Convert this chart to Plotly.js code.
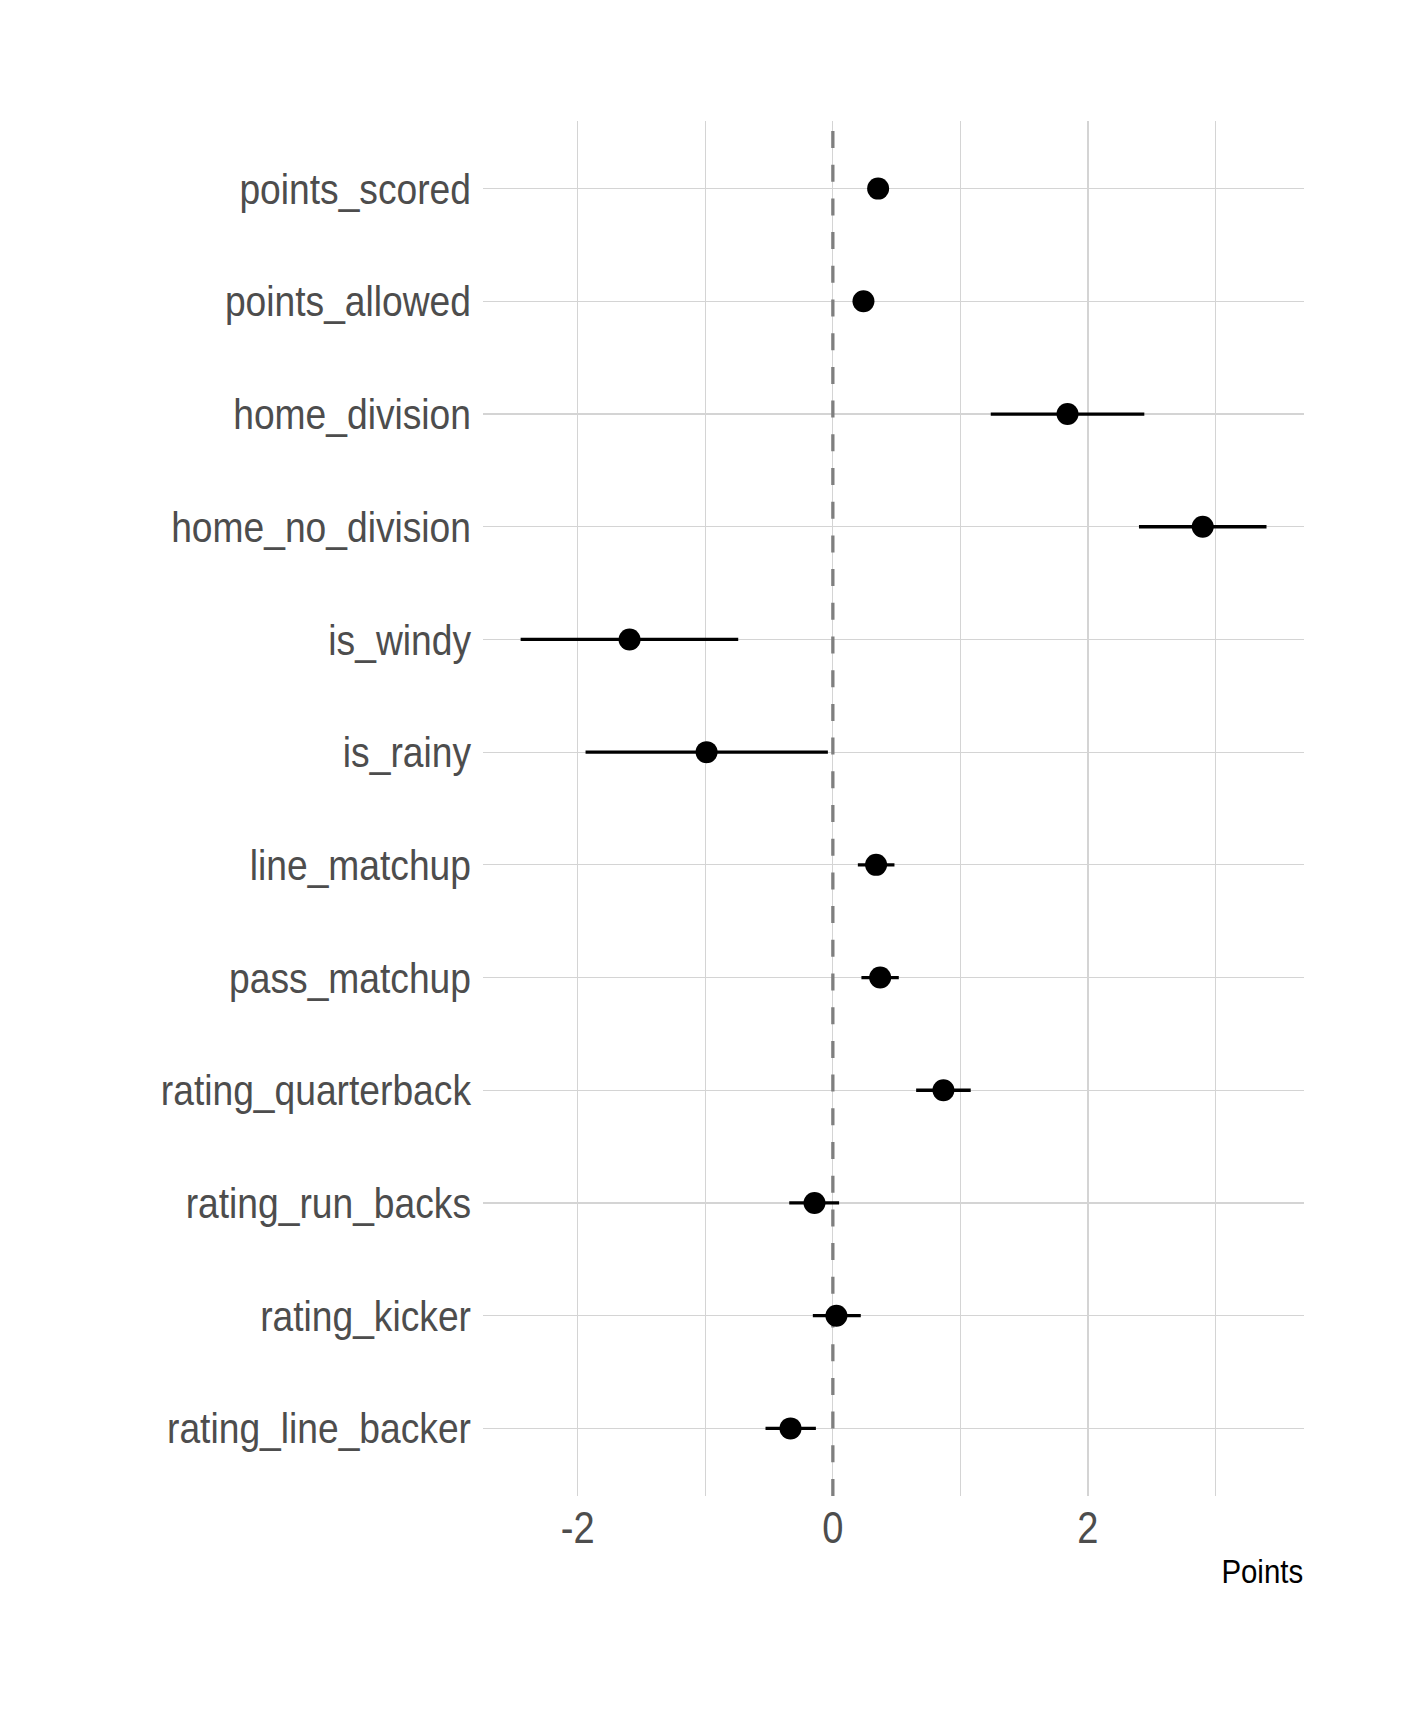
<!DOCTYPE html>
<html>
<head>
<meta charset="utf-8">
<script src="https://cdn.plot.ly/plotly-3.0.1.min.js"></script>
<style>html,body{margin:0;padding:0;background:#fff;}</style>
</head>
<body>
<div id="chart" style="width:1425px;height:1712px;"></div>
<script>
// Data
const terms = ["points_scored","points_allowed","home_division","home_no_division","is_windy","is_rainy","line_matchup","pass_matchup","rating_quarterback","rating_run_backs","rating_kicker","rating_line_backer"];
const estimate = [0.355, 0.24, 1.84, 2.90, -1.594, -0.99, 0.339, 0.371, 0.867, -0.144, 0.028, -0.332];
const lower    = [0.30, 0.19, 1.238, 2.40, -2.448, -1.939, 0.196, 0.224, 0.653, -0.342, -0.157, -0.528];
const upper    = [0.41, 0.29, 2.442, 3.40, -0.742, -0.039, 0.483, 0.517, 1.081, 0.049, 0.219, -0.133];
const refX = [0, 0];        // reference line at zero
const refSpan = [0, 1];     // spans the whole panel height
const xTickVals = [-2, -1, 0, 1, 2, 3];
const xTickText = ["-2", "", "0", "", "2", ""];
const xTitle = "Points";

const errPlus = estimate.map((e, i) => upper[i] - e);
const errMinus = estimate.map((e, i) => e - lower[i]);

const FONT = '"Liberation Sans", Arial, sans-serif';
const NARROW = 0.865;  // horizontal condensing to mimic a narrow face

const refLine = {
  type: 'scatter', mode: 'lines',
  x: refX, y: refSpan, xaxis: 'x', yaxis: 'y',
  line: {color: '#7f7f7f', width: 3.3, dash: '17px,16.7px'},
  hoverinfo: 'skip'
};

const trace = {
  type: 'scatter',
  mode: 'markers',
  x: estimate,
  y: terms,
  xaxis: 'x', yaxis: 'y2',
  marker: {color: '#000000', size: 22},
  error_x: {type: 'data', symmetric: false, array: errPlus, arrayminus: errMinus,
            color: '#000000', thickness: 3.3, width: 0},
  hoverinfo: 'x+y'
};

const layout = {
  width: 1425, height: 1712,
  paper_bgcolor: '#ffffff', plot_bgcolor: '#ffffff',
  margin: {l: 483, r: 121, t: 121, b: 216},
  showlegend: false,
  font: {family: FONT, color: '#4d4d4d'},
  xaxis: {
    range: [-2.743, 3.694],
    tickvals: xTickVals, ticktext: xTickText,
    showgrid: true, gridcolor: '#d4d4d4', gridwidth: 1.2,
    zeroline: false, showline: false, ticks: '',
    tickfont: {family: FONT, size: 44, color: '#4d4d4d'},
    ticklabelstandoff: 2
  },
  yaxis: {
    range: [0, 1], visible: false, showgrid: false, zeroline: false, fixedrange: true
  },
  yaxis2: {
    type: 'category', overlaying: 'y', side: 'left',
    categoryorder: 'array', categoryarray: terms,
    range: [terms.length - 1 + 0.6, -0.6],
    showgrid: true, gridcolor: '#d4d4d4', gridwidth: 1.2,
    zeroline: false, showline: false, ticks: '',
    tickfont: {family: FONT, size: 43, color: '#4d4d4d'},
    ticklabelstandoff: 11
  },
  annotations: [{
    text: xTitle, xref: 'paper', yref: 'paper', x: 1, y: 0,
    xanchor: 'right', yanchor: 'top', showarrow: false, yshift: -54, xshift: 8,
    font: {family: FONT, size: 34, color: '#000000'}
  }]
};

Plotly.newPlot('chart', [refLine, trace], layout, {displayModeBar: false, staticPlot: true}).then(function (gd) {
  const sel = gd.querySelectorAll('.ytick text, .y2tick text, .xtick text, .annotation-text');
  sel.forEach(function (t) {
    if (!t.textContent) return;
    const w = t.getComputedTextLength();
    t.setAttribute('textLength', (w * NARROW).toFixed(2));
    t.setAttribute('lengthAdjust', 'spacingAndGlyphs');
  });
});
</script>
</body>
</html>
